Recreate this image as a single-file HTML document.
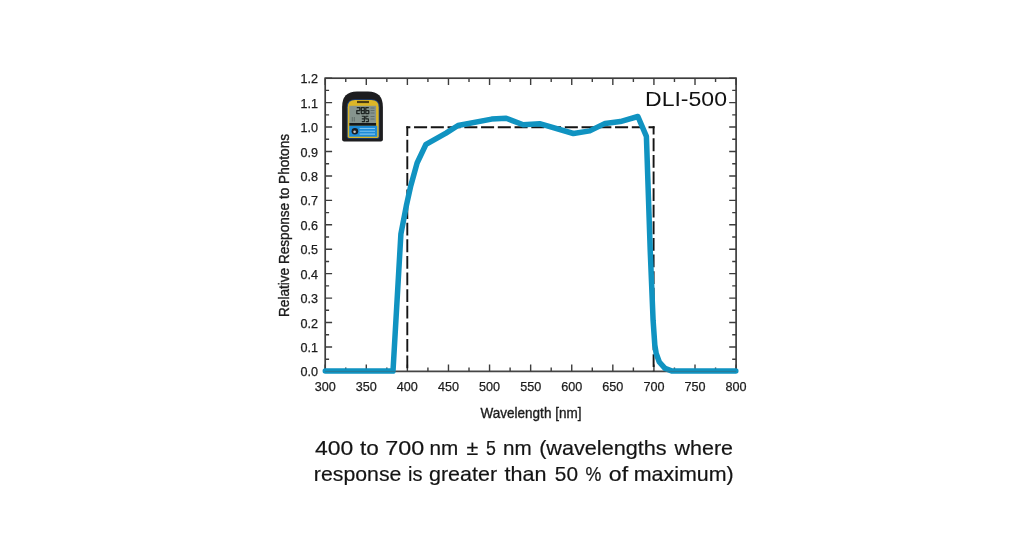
<!DOCTYPE html>
<html><head><meta charset="utf-8"><title>DLI-500 spectral response</title>
<style>
html,body{margin:0;padding:0;background:#fff;}
body{width:1024px;height:555px;position:relative;overflow:hidden;font-family:"Liberation Sans",sans-serif;}
svg{position:absolute;left:0;top:0;will-change:transform;}
</style></head><body>
<svg width="1024" height="555" viewBox="0 0 1024 555" font-family="Liberation Sans, sans-serif">
<rect x="325.2" y="78.2" width="410.90" height="293.20" stroke="#3d3d3d" stroke-width="1.7" fill="none"/>
<g stroke="#3d3d3d" stroke-width="1.4" fill="none">
<path d="M325.20 371.4v-6.9M325.20 78.2v6.9"/>
<path d="M345.75 371.4v-3.9M345.75 78.2v3.9"/>
<path d="M366.29 371.4v-6.9M366.29 78.2v6.9"/>
<path d="M386.83 371.4v-3.9M386.83 78.2v3.9"/>
<path d="M407.38 371.4v-6.9M407.38 78.2v6.9"/>
<path d="M427.92 371.4v-3.9M427.92 78.2v3.9"/>
<path d="M448.47 371.4v-6.9M448.47 78.2v6.9"/>
<path d="M469.01 371.4v-3.9M469.01 78.2v3.9"/>
<path d="M489.56 371.4v-6.9M489.56 78.2v6.9"/>
<path d="M510.11 371.4v-3.9M510.11 78.2v3.9"/>
<path d="M530.65 371.4v-6.9M530.65 78.2v6.9"/>
<path d="M551.20 371.4v-3.9M551.20 78.2v3.9"/>
<path d="M571.74 371.4v-6.9M571.74 78.2v6.9"/>
<path d="M592.29 371.4v-3.9M592.29 78.2v3.9"/>
<path d="M612.83 371.4v-6.9M612.83 78.2v6.9"/>
<path d="M633.38 371.4v-3.9M633.38 78.2v3.9"/>
<path d="M653.92 371.4v-6.9M653.92 78.2v6.9"/>
<path d="M674.46 371.4v-3.9M674.46 78.2v3.9"/>
<path d="M695.01 371.4v-6.9M695.01 78.2v6.9"/>
<path d="M715.56 371.4v-3.9M715.56 78.2v3.9"/>
<path d="M736.10 371.4v-6.9M736.10 78.2v6.9"/>
<path d="M325.2 371.40h6.9M736.1 371.40h-6.9"/>
<path d="M325.2 359.18h3.9M736.1 359.18h-3.9"/>
<path d="M325.2 346.97h6.9M736.1 346.97h-6.9"/>
<path d="M325.2 334.75h3.9M736.1 334.75h-3.9"/>
<path d="M325.2 322.53h6.9M736.1 322.53h-6.9"/>
<path d="M325.2 310.32h3.9M736.1 310.32h-3.9"/>
<path d="M325.2 298.10h6.9M736.1 298.10h-6.9"/>
<path d="M325.2 285.88h3.9M736.1 285.88h-3.9"/>
<path d="M325.2 273.67h6.9M736.1 273.67h-6.9"/>
<path d="M325.2 261.45h3.9M736.1 261.45h-3.9"/>
<path d="M325.2 249.23h6.9M736.1 249.23h-6.9"/>
<path d="M325.2 237.02h3.9M736.1 237.02h-3.9"/>
<path d="M325.2 224.80h6.9M736.1 224.80h-6.9"/>
<path d="M325.2 212.58h3.9M736.1 212.58h-3.9"/>
<path d="M325.2 200.37h6.9M736.1 200.37h-6.9"/>
<path d="M325.2 188.15h3.9M736.1 188.15h-3.9"/>
<path d="M325.2 175.93h6.9M736.1 175.93h-6.9"/>
<path d="M325.2 163.72h3.9M736.1 163.72h-3.9"/>
<path d="M325.2 151.50h6.9M736.1 151.50h-6.9"/>
<path d="M325.2 139.28h3.9M736.1 139.28h-3.9"/>
<path d="M325.2 127.07h6.9M736.1 127.07h-6.9"/>
<path d="M325.2 114.85h3.9M736.1 114.85h-3.9"/>
<path d="M325.2 102.63h6.9M736.1 102.63h-6.9"/>
<path d="M325.2 90.42h3.9M736.1 90.42h-3.9"/>
<path d="M325.2 78.20h6.9M736.1 78.20h-6.9"/>
</g>
<g fill="#1c1c1c" font-size="12.6" stroke="#1c1c1c" stroke-width="0.25">
<text x="325.20" y="391.4" text-anchor="middle">300</text>
<text x="366.29" y="391.4" text-anchor="middle">350</text>
<text x="407.38" y="391.4" text-anchor="middle">400</text>
<text x="448.47" y="391.4" text-anchor="middle">450</text>
<text x="489.56" y="391.4" text-anchor="middle">500</text>
<text x="530.65" y="391.4" text-anchor="middle">550</text>
<text x="571.74" y="391.4" text-anchor="middle">600</text>
<text x="612.83" y="391.4" text-anchor="middle">650</text>
<text x="653.92" y="391.4" text-anchor="middle">700</text>
<text x="695.01" y="391.4" text-anchor="middle">750</text>
<text x="736.10" y="391.4" text-anchor="middle">800</text>
<text x="318.1" y="376.40" text-anchor="end">0.0</text>
<text x="318.1" y="351.97" text-anchor="end">0.1</text>
<text x="318.1" y="327.53" text-anchor="end">0.2</text>
<text x="318.1" y="303.10" text-anchor="end">0.3</text>
<text x="318.1" y="278.67" text-anchor="end">0.4</text>
<text x="318.1" y="254.23" text-anchor="end">0.5</text>
<text x="318.1" y="229.80" text-anchor="end">0.6</text>
<text x="318.1" y="205.37" text-anchor="end">0.7</text>
<text x="318.1" y="180.93" text-anchor="end">0.8</text>
<text x="318.1" y="156.50" text-anchor="end">0.9</text>
<text x="318.1" y="132.07" text-anchor="end">1.0</text>
<text x="318.1" y="107.63" text-anchor="end">1.1</text>
<text x="318.1" y="83.20" text-anchor="end">1.2</text>
</g>
<g id="device">
<path d="M342.1 139.5V107Q342.1 91.6 357 91.6H368Q382.9 91.6 382.9 107V139.5Q382.9 141.5 380.9 141.5H344.1Q342.1 141.5 342.1 139.5Z" fill="#1d1d1f"/>
<path d="M346.8 137V107Q346.8 99.3 355 99.3H371.4Q379.6 99.3 379.6 107V137Q379.6 138.8 377.8 138.8H348.6Q346.8 138.8 346.8 137Z" fill="#1b3f7a"/>
<path d="M347.7 136.6V107.2Q347.7 100.1 355.2 100.1H371.2Q378.7 100.1 378.7 107.2V136.6Q378.7 138 377.3 138H349.1Q347.7 138 347.7 136.6Z" fill="#dcb627"/>
<rect x="357" y="100.9" width="12" height="2.2" fill="#4a3c12"/>
<rect x="349.3" y="105.8" width="26.8" height="17.4" fill="#86948e"/>
<g fill="none" stroke="#1e2422" stroke-width="1.25" stroke-linejoin="round">
<path d="M356.8 107.6h3v3h-3v3h3M361.3 107.6h3v6h-3zM361.3 110.6h3M368.8 107.6h-3v6h3v-3h-3"/>
<path d="M361.8 116.2h2.6v5.4h-2.6M361.8 118.9h2.6M368.4 116.2h-2.6v2.7h2.6v2.7h-2.6" stroke-width="1.1"/>
</g>
<path d="M352.3 117v4.5M354.3 117v4.5M370.5 108h4M370.5 110.5h4M370.5 113h4M370.5 116.5h4M370.5 119h4" stroke="#5d6b66" stroke-width="0.9" fill="none"/>
<rect x="349.3" y="123" width="26.8" height="2.8" fill="#17181a"/>
<rect x="349.2" y="125.8" width="28" height="10.9" fill="#1f8bd6"/>
<circle cx="354.9" cy="131.3" r="3.3" fill="#1b1d22"/>
<circle cx="354.6" cy="131.7" r="1.3" fill="#c9c9c9"/>
<path d="M359.6 128.5h15.4M359.6 131.3h15.4M359.6 134.1h15.4" stroke="#7cc4f0" stroke-width="1.1" fill="none"/>
</g>

<g stroke="#151515" stroke-width="1.9" fill="none">
<path d="M406.35 127.3H654.55" stroke-dasharray="13.05 3.7" stroke-dashoffset="9.05"/>
<path d="M407.3 126.35V371.5" stroke-dasharray="12.8 3.8" stroke-dashoffset="3.2"/>
<path d="M653.6 126.35V371.5" stroke-dasharray="12.8 3.8" stroke-dashoffset="4.6"/>
</g>
<polyline fill="none" stroke="#1093c1" stroke-width="5.5" stroke-linejoin="round" stroke-linecap="round" points="325.3,371.1 393.0,371.1 400.9,234 406.3,205.9 410.8,185.7 417.1,163 426.0,144.3 446,133.1 458,125.5 491.6,119.1 506.2,118.3 523.2,124.7 539.6,123.7 573.4,133.5 589.8,130.9 605.1,123.4 620.3,121.6 637.9,116.5 646.4,136.4 650.2,250 653.1,320.3 654.8,345 656.2,353.5 659.3,362 665,368.4 672.2,371.1 735.8,371.1"/>
<path d="M325.2 371.4H736.1" stroke="#555" stroke-width="1" opacity="0.4" fill="none"/>
<text x="531.0" y="417.6" font-size="13.8" text-anchor="middle" fill="#1c1c1c" stroke="#1c1c1c" stroke-width="0.35" textLength="100.8" lengthAdjust="spacingAndGlyphs">Wavelength [nm]</text>
<text transform="translate(289.2,225.5) rotate(-90)" font-size="13.8" text-anchor="middle" fill="#1c1c1c" stroke="#1c1c1c" stroke-width="0.35" textLength="183" lengthAdjust="spacingAndGlyphs">Relative Response to Photons</text>
<text x="686" y="105.7" font-size="19.8" text-anchor="middle" fill="#111" textLength="81.9" lengthAdjust="spacingAndGlyphs">DLI-500</text>
<g font-size="21.0" fill="#141414" stroke="#141414" stroke-width="0.2">
<text x="314.90" y="454.7" textLength="38.24" lengthAdjust="spacingAndGlyphs">400</text>
<text x="359.90" y="454.7" textLength="18.83" lengthAdjust="spacingAndGlyphs">to</text>
<text x="385.19" y="454.7" textLength="38.97" lengthAdjust="spacingAndGlyphs">700</text>
<text x="429.51" y="454.7" textLength="28.77" lengthAdjust="spacingAndGlyphs">nm</text>
<text x="466.50" y="454.7" textLength="11.73" lengthAdjust="spacingAndGlyphs">±</text>
<text x="486.00" y="454.7" textLength="9.87" lengthAdjust="spacingAndGlyphs">5</text>
<text x="503.02" y="454.7" textLength="28.67" lengthAdjust="spacingAndGlyphs">nm</text>
<text x="539.17" y="454.7" textLength="127.44" lengthAdjust="spacingAndGlyphs">(wavelengths</text>
<text x="674.62" y="454.7" textLength="58.37" lengthAdjust="spacingAndGlyphs">where</text>
<text x="313.89" y="481.0" textLength="87.50" lengthAdjust="spacingAndGlyphs">response</text>
<text x="408.05" y="481.0" textLength="14.43" lengthAdjust="spacingAndGlyphs">is</text>
<text x="429.00" y="481.0" textLength="68.09" lengthAdjust="spacingAndGlyphs">greater</text>
<text x="504.60" y="481.0" textLength="41.90" lengthAdjust="spacingAndGlyphs">than</text>
<text x="554.80" y="481.0" textLength="23.17" lengthAdjust="spacingAndGlyphs">50</text>
<text x="585.60" y="481.0" textLength="15.87" lengthAdjust="spacingAndGlyphs">%</text>
<text x="608.80" y="481.0" textLength="19.32" lengthAdjust="spacingAndGlyphs">of</text>
<text x="633.78" y="481.0" textLength="99.93" lengthAdjust="spacingAndGlyphs">maximum)</text>
</g>
</svg>

</body></html>
